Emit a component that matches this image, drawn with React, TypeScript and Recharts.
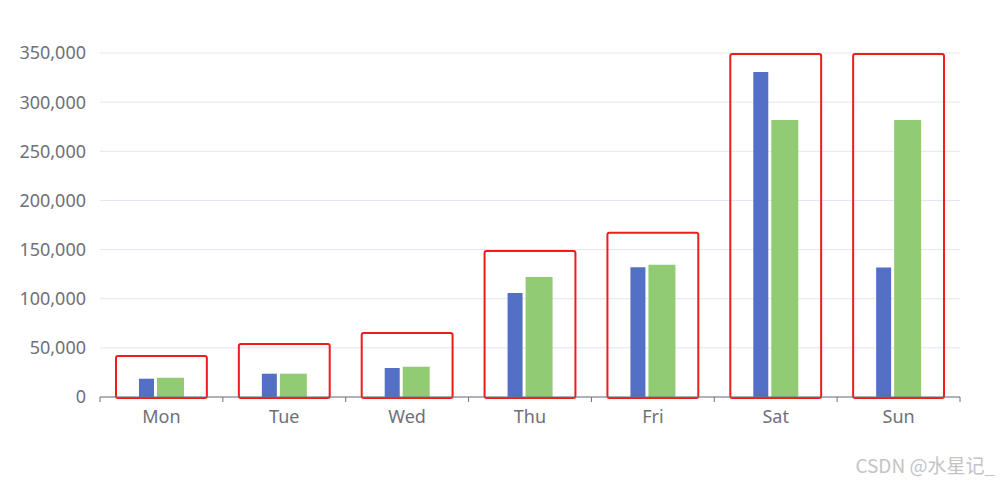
import { BarChart, Bar, XAxis, YAxis, CartesianGrid, ReferenceArea } from 'recharts';

const DAYS = ['Mon', 'Tue', 'Wed', 'Thu', 'Fri', 'Sat', 'Sun'];
const SERIES_A = [18600, 23700, 29500, 105800, 132000, 330600, 131800];
const SERIES_B = [19600, 23700, 30800, 122000, 134600, 281800, 281800];
const BOX_TOPS = [41700, 54000, 65000, 148500, 167000, 349000, 349000];
const Y_TICKS = [0, 50000, 100000, 150000, 200000, 250000, 300000, 350000];

const W = 1000;
const H = 483;
const M = { top: 53, right: 40, bottom: 56, left: 0 };
const Y_W = 100;
const BAND = (W - M.left - M.right - Y_W) / DAYS.length;
const AXIS_Y = H - M.bottom - 30;

const FONT = '"Noto Sans", sans-serif';
const TEXT = '#6e7079';

const data = DAYS.map((d, i) => ({ day: d, a: SERIES_A[i], b: SERIES_B[i] }));

function DayTick({ x, y, payload, index }: any) {
  const left = x - BAND / 2;
  return (
    <g>
      <line x1={left} x2={left} y1={AXIS_Y} y2={AXIS_Y + 5} stroke={TEXT} />
      {index === DAYS.length - 1 && (
        <line x1={left + BAND} x2={left + BAND} y1={AXIS_Y} y2={AXIS_Y + 5} stroke={TEXT} />
      )}
      <text x={x} y={y} dy="0.71em" textAnchor="middle" fill={TEXT} fontSize={18} fontFamily={FONT}>
        {payload.value}
      </text>
    </g>
  );
}

// hand-drawn style highlight box around each day's pair of bars
function BoxShape(p: any) {
  const inset = 16;
  return (
    <rect
      x={p.x + inset}
      y={p.y}
      width={p.width - inset * 2}
      height={p.height + 1}
      rx={2}
      fill="none"
      stroke="#f31a1a"
      strokeWidth={2}
    />
  );
}

export default function App() {
  return (
    <div style={{ position: 'absolute', left: 0, top: 0, width: W, height: H, background: '#fff' }}>
      <BarChart width={W} height={H} data={data} margin={M} barGap={3}>
        <CartesianGrid vertical={false} stroke="#e0e6f1" />
        <XAxis
          dataKey="day"
          height={30}
          axisLine={{ stroke: TEXT }}
          tickLine={false}
          tickSize={5}
          tickMargin={8}
          tick={<DayTick />}
          interval={0}
        />
        <YAxis
          width={Y_W}
          domain={[0, 350000]}
          ticks={Y_TICKS}
          axisLine={false}
          tickLine={false}
          tickSize={0}
          tickMargin={14}
          tickFormatter={(v: number) => v.toLocaleString('en-US')}
          tick={{ fill: TEXT, fontSize: 18, fontFamily: FONT }}
        />
        <Bar dataKey="a" fill="#5470c6" barSize={15} isAnimationActive={false} />
        <Bar dataKey="b" fill="#91cc75" barSize={27} isAnimationActive={false} />
        {DAYS.map((d, i) => (
          <ReferenceArea
            key={d}
            x1={d}
            x2={d}
            y1={0}
            y2={BOX_TOPS[i]}
            ifOverflow="visible"
            shape={<BoxShape />}
          />
        ))}
      </BarChart>
      <div
        style={{
          position: 'absolute',
          right: 5,
          top: 451,
          fontFamily: '"Noto Sans CJK SC", sans-serif',
          fontSize: 19,
          color: '#c4c4c4',
          whiteSpace: 'nowrap',
        }}
      >
        CSDN @水星记_
      </div>
    </div>
  );
}
